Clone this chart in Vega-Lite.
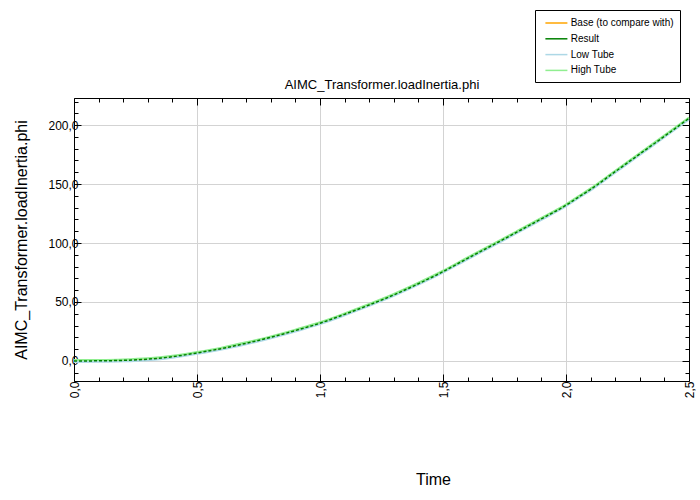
{
  "$schema": "https://vega.github.io/schema/vega-lite/v6.json",
  "width": 615,
  "height": 283,
  "autosize": {"type": "none"},
  "padding": {"left": 74, "top": 98, "right": 11, "bottom": 119},
  "background": "white",
  "config": {
    "font": "Liberation Sans",
    "view": {"stroke": null},
    "axis": {"domainColor": "black", "tickColor": "black", "labelColor": "black", "titleColor": "black", "gridColor": "#d3d3d3", "labelFont": "Liberation Sans", "titleFont": "Liberation Sans"}
  },
  "data": {
    "values": [
      {"t": 0, "result": 0, "low": -0.8, "high": 0.8},
      {"t": 0.1, "result": 0.1, "low": -0.7, "high": 0.9},
      {"t": 0.2, "result": 0.5, "low": -0.3, "high": 1.3},
      {"t": 0.3, "result": 1.5, "low": 0.7, "high": 2.3},
      {"t": 0.4, "result": 3.6, "low": 2.8, "high": 4.4},
      {"t": 0.5, "result": 6.8, "low": 6.0, "high": 7.6},
      {"t": 0.6, "result": 10.5, "low": 9.7, "high": 11.3},
      {"t": 0.7, "result": 15.0, "low": 14.2, "high": 15.8},
      {"t": 0.8, "result": 20.0, "low": 19.2, "high": 20.8},
      {"t": 0.9, "result": 25.8, "low": 25.0, "high": 26.6},
      {"t": 1.0, "result": 32.0, "low": 31.2, "high": 32.8},
      {"t": 1.1, "result": 39.5, "low": 38.7, "high": 40.3},
      {"t": 1.2, "result": 47.5, "low": 46.7, "high": 48.3},
      {"t": 1.3, "result": 56.0, "low": 55.2, "high": 56.8},
      {"t": 1.4, "result": 65.5, "low": 64.7, "high": 66.3},
      {"t": 1.5, "result": 75.7, "low": 74.9, "high": 76.5},
      {"t": 1.6, "result": 87.0, "low": 86.2, "high": 87.8},
      {"t": 1.7, "result": 98.0, "low": 97.2, "high": 98.8},
      {"t": 1.8, "result": 109.2, "low": 108.4, "high": 110.0},
      {"t": 1.9, "result": 120.5, "low": 119.7, "high": 121.3},
      {"t": 2.0, "result": 132.0, "low": 131.2, "high": 132.8},
      {"t": 2.05, "result": 138.8, "low": 138.0, "high": 139.6},
      {"t": 2.1, "result": 145.5, "low": 144.7, "high": 146.3},
      {"t": 2.2, "result": 160.5, "low": 159.7, "high": 161.3},
      {"t": 2.3, "result": 175.5, "low": 174.7, "high": 176.3},
      {"t": 2.4, "result": 190.5, "low": 189.7, "high": 191.3},
      {"t": 2.5, "result": 205.7, "low": 204.9, "high": 206.5}
    ]
  },
  "resolve": {"axis": {"x": "independent", "y": "independent"}},
  "layer": [
    {
      "mark": {"type": "line", "strokeWidth": 1, "interpolate": "monotone"},
      "encoding": {
        "x": {
          "field": "t", "type": "quantitative",
          "scale": {"domain": [0, 2.5], "nice": false, "zero": false},
          "axis": {
            "orient": "bottom",
            "values": [0, 0.1, 0.2, 0.3, 0.4, 0.5, 0.6, 0.7, 0.8, 0.9, 1, 1.1, 1.2, 1.3, 1.4, 1.5, 1.6, 1.7, 1.8, 1.9, 2, 2.1, 2.2, 2.3, 2.4, 2.5],
            "tickSize": {"condition": {"test": "abs(datum.value*2-round(datum.value*2))<0.001", "value": -7}, "value": -4},
            "gridOpacity": {"condition": {"test": "abs(datum.value*2-round(datum.value*2))<0.001", "value": 1}, "value": 0},
            "labelExpr": "abs(datum.value*2-round(datum.value*2))<0.001 ? replace(format(datum.value,'.1f'),'.',',') : ''",
            "labelAngle": -90,
            "labelAlign": "right",
            "labelBaseline": "middle",
            "labelFontSize": 12,
            "labelColor": "black",
            "labelPadding": 7,
            "labelOverlap": false,
            "labelFlush": false,
            "title": "Time",
            "titleFontSize": 16,
            "titleFontWeight": "normal",
            "titleColor": "black",
            "titleX": 359,
            "titleY": 98,
            "titleBaseline": "middle",
            "titleAlign": "center"
          }
        },
        "y": {
          "field": "result", "type": "quantitative",
          "scale": {"domain": [-17, 223], "nice": false, "zero": false},
          "axis": {
            "orient": "left",
            "values": [-10, 0, 10, 20, 30, 40, 50, 60, 70, 80, 90, 100, 110, 120, 130, 140, 150, 160, 170, 180, 190, 200, 210, 220],
            "tickSize": {"condition": {"test": "datum.value % 50 == 0", "value": -7}, "value": -4},
            "gridOpacity": {"condition": {"test": "datum.value % 50 == 0", "value": 1}, "value": 0},
            "labelExpr": "datum.value % 50 == 0 ? replace(format(datum.value,'.1f'),'.',',') : ''",
            "labelFontSize": 12,
            "labelColor": "black",
            "labelPadding": 3,
            "labelOverlap": false,
            "labelFlush": false,
            "title": "AIMC_Transformer.loadInertia.phi",
            "titleFontSize": 16,
            "titleFontWeight": "normal",
            "titleColor": "black",
            "titleX": -53,
            "titleY": 141.5,
            "titleAngle": -90,
            "titleBaseline": "middle",
            "titleAlign": "center"
          }
        },
        "color": {
          "datum": "Base (to compare with)", "type": "nominal",
          "scale": {"domain": ["Base (to compare with)", "Result", "Low Tube", "High Tube"], "range": ["#FFA500", "#008000", "#ADD8E6", "#90EE90"]},
          "legend": {
            "orient": "none", "legendX": 461, "legendY": -88,
            "title": null,
            "strokeColor": "black", "fillColor": "white",
            "padding": 6,
            "symbolType": "M0,0L3.6667,0", "symbolSize": 144, "symbolStrokeWidth": 1.5,
            "symbolOffset": -2.6,
            "labelFontSize": 10, "labelColor": "black", "labelFont": "Liberation Sans",
            "labelOffset": 18.3, "rowPadding": 3.8
          }
        }
      }
    },
    {
      "mark": {"type": "line", "strokeWidth": 2, "interpolate": "monotone"},
      "encoding": {
        "x": {
          "field": "t", "type": "quantitative",
          "axis": {
            "orient": "top",
            "values": [0, 0.1, 0.2, 0.3, 0.4, 0.5, 0.6, 0.7, 0.8, 0.9, 1, 1.1, 1.2, 1.3, 1.4, 1.5, 1.6, 1.7, 1.8, 1.9, 2, 2.1, 2.2, 2.3, 2.4, 2.5],
            "tickSize": {"condition": {"test": "abs(datum.value*2-round(datum.value*2))<0.001", "value": -7}, "value": -4},
            "labels": false, "grid": false,
            "title": "AIMC_Transformer.loadInertia.phi",
            "titleFontSize": 13,
            "titleFontWeight": "normal",
            "titleColor": "black",
            "titleX": 307.5,
            "titleY": -14,
            "titleBaseline": "middle",
            "titleAlign": "center"
          }
        },
        "y": {
          "field": "low", "type": "quantitative",
          "axis": {
            "orient": "right",
            "values": [-10, 0, 10, 20, 30, 40, 50, 60, 70, 80, 90, 100, 110, 120, 130, 140, 150, 160, 170, 180, 190, 200, 210, 220],
            "tickSize": {"condition": {"test": "datum.value % 50 == 0", "value": -7}, "value": -4},
            "labels": false, "grid": false, "title": null
          }
        },
        "color": {"datum": "Low Tube", "type": "nominal"}
      }
    },
    {
      "mark": {"type": "line", "strokeWidth": 2, "interpolate": "monotone"},
      "encoding": {
        "x": {"field": "t", "type": "quantitative", "axis": null},
        "y": {"field": "high", "type": "quantitative", "axis": null},
        "color": {"datum": "High Tube", "type": "nominal"}
      }
    },
    {
      "mark": {"type": "line", "strokeWidth": 1.5, "strokeDash": [3, 2], "interpolate": "monotone"},
      "encoding": {
        "x": {"field": "t", "type": "quantitative", "axis": null},
        "y": {"field": "result", "type": "quantitative", "axis": null},
        "color": {"datum": "Result", "type": "nominal"}
      }
    }
  ]
}
